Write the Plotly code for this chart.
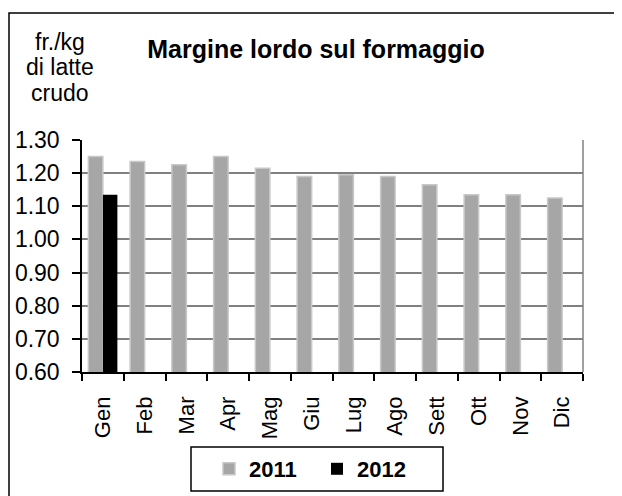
import plotly.graph_objects as go

months = ["Gen", "Feb", "Mar", "Apr", "Mag", "Giu", "Lug", "Ago", "Sett", "Ott", "Nov", "Dic"]
values_2011 = [1.25, 1.235, 1.225, 1.25, 1.215, 1.19, 1.195, 1.19, 1.165, 1.135, 1.135, 1.125]
values_2012 = [1.135, None, None, None, None, None, None, None, None, None, None, None]
y_ticks = [0.6, 0.7, 0.8, 0.9, 1.0, 1.1, 1.2, 1.3]

FONT = "Liberation Sans, Arial, sans-serif"

fig = go.Figure()
fig.add_trace(go.Bar(
    x=months, y=values_2011, name="2011",
    marker=dict(color="#A6A6A6", line=dict(color="#C8C8C8", width=1.5)),
))
fig.add_trace(go.Bar(
    x=months, y=values_2012, name="2012",
    marker=dict(color="#000000", line=dict(color="#000000", width=0)),
))

# page body has an 8px margin: work in screen pixels and shift by OFF
OFF = 8
W, H = 622 - OFF, 496 - OFF
L, R, T, B = 82 - OFF, 583 - OFF, 140 - OFF, 372 - OFF
def px(x):
    return (x - OFF - L) / (R - L)
def py(y):
    return (B - (y - OFF)) / (B - T)

fig.update_layout(
    width=W, height=H,
    margin=dict(l=L, r=W - R, t=T, b=H - B, autoexpand=False),
    paper_bgcolor="white", plot_bgcolor="white",
    barmode="group", bargap=0.305, bargroupgap=0.0,
    font=dict(family=FONT, size=23, color="black"),
    title=dict(
        text="<b>Margine lordo sul formaggio</b>",
        x=(316 - OFF) / W, xanchor="center", y=1 - (49 - OFF) / H, yanchor="middle",
        font=dict(family=FONT, size=25, color="black"),
    ),
    showlegend=True,
    legend=dict(
        orientation="h", x=px(317), xanchor="center", y=py(469), yanchor="middle",
        font=dict(family=FONT, size=22, color="black", weight="bold"),
        bgcolor="rgba(0,0,0,0)", borderwidth=0,
        entrywidth=63, entrywidthmode="pixels", itemclick=False,
    ),
    xaxis=dict(
        type="category", showline=True, linecolor="black", linewidth=1.5,
        ticks="outside", tickson="boundaries", ticklen=7, tickcolor="black", tickwidth=1.5,
        tickangle=-90, tickfont=dict(family=FONT, size=22, color="black"),
        showgrid=False, ticklabelstandoff=14,
    ),
    yaxis=dict(
        range=[0.6, 1.3], tickvals=y_ticks, tickformat=".2f",
        showline=True, linecolor="black", linewidth=1.5,
        ticks="outside", ticklen=8, tickcolor="black", tickwidth=1.5,
        showgrid=True, gridcolor="#808080", gridwidth=1.5,
        tickfont=dict(family=FONT, size=23, color="black"),
        zeroline=False, ticklabelstandoff=8,
    ),
    shapes=[
        dict(type="line", xref="paper", yref="paper", x0=1, x1=1, y0=0, y1=1,
             line=dict(color="#808080", width=1.5)),
        dict(type="rect", xref="paper", yref="paper",
             x0=px(191), x1=px(443), y0=py(491), y1=py(447),
             line=dict(color="black", width=1.5), fillcolor="rgba(0,0,0,0)"),
        dict(type="rect", xref="paper", yref="paper",
             x0=px(9), x1=px(640), y0=py(510), y1=py(13),
             line=dict(color="black", width=1.5), fillcolor="rgba(0,0,0,0)"),
    ],
    annotations=[
        dict(text=t, xref="paper", yref="paper", x=px(60), y=py(yy),
             xanchor="center", yanchor="middle", showarrow=False,
             font=dict(family=FONT, size=23, color="black"))
        for t, yy in [("fr./kg", 42), ("di latte", 67), ("crudo", 93)]
    ],
)

fig.write_html("out.html")
